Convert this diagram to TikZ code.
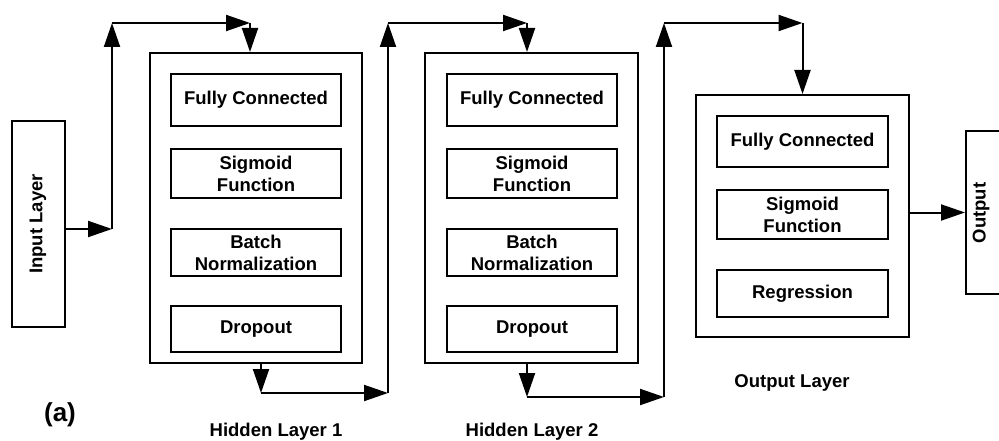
\documentclass[tikz,border=0pt]{standalone}
\usepackage{fontspec}
\setmainfont{Liberation Sans}
\usetikzlibrary{arrows.meta}
\begin{document}
\begin{tikzpicture}[x=1pt,y=-1pt,
  lbl/.style={font=\fontsize{18.5}{22}\selectfont\bfseries, align=center, inner sep=0pt},
  ibox/.style={draw, line width=2pt, minimum width=170pt, inner sep=0pt, lbl},
  obox/.style={draw, line width=2pt, minimum width=212pt, minimum height=310pt, inner sep=0pt},
  arr/.style={line width=2pt, -{Triangle[length=24pt,width=16pt]}},
]
\useasboundingbox (0,0) rectangle (999,441);
\clip (0,0) rectangle (999,441);

% input
\node[draw, line width=2pt, minimum width=53pt, minimum height=206pt, inner sep=0pt] (inbox) at (38.5,224) {};
\node[lbl, rotate=90] (intext) at (38,224) {Input Layer};

% hidden layer 1
\node[obox] (h1) at (256,208) {};
\node[ibox, minimum height=52pt] (h1a) at (256,100) {Fully Connected};
\node[ibox, minimum height=49pt] (h1b) at (256,173.5) {Sigmoid\\Function};
\node[ibox, minimum height=47pt] (h1c) at (256,252.5) {Batch\\Normalization};
\node[ibox, minimum height=46pt] (h1d) at (256,329) {Dropout};
\node[lbl, anchor=base] (h1l) at (276,436) {Hidden Layer 1};

% hidden layer 2
\node[obox, minimum width=213pt] (h2) at (531.5,208) {};
\node[ibox, minimum height=52pt] (h2a) at (532,100) {Fully Connected};
\node[ibox, minimum height=49pt] (h2b) at (532,173.5) {Sigmoid\\Function};
\node[ibox, minimum height=47pt] (h2c) at (532,252.5) {Batch\\Normalization};
\node[ibox, minimum height=46pt] (h2d) at (532,329) {Dropout};
\node[lbl, anchor=base] (h2l) at (532,436) {Hidden Layer 2};

% output layer
\node[obox, minimum width=213pt, minimum height=242pt] (ol) at (802.5,216) {};
\node[ibox, minimum width=171pt, minimum height=51pt] (ola) at (802.5,141.5) {Fully Connected};
\node[ibox, minimum width=171pt, minimum height=49pt] (olb) at (802.5,214.5) {Sigmoid\\Function};
\node[ibox, minimum width=171pt, minimum height=47pt] (olc) at (802.5,293.5) {Regression};
\node[lbl, anchor=base] (oll) at (792,387) {Output Layer};

% output
\node[draw, line width=2pt, minimum width=54pt, minimum height=163pt, inner sep=0pt] (outbox) at (993,212.5) {};
\node[lbl, rotate=90] (outtext) at (981,213) {Output};

\node[font=\fontsize{26}{30}\selectfont\bfseries, anchor=base, inner sep=0pt] (tag) at (60,421.5) {(a)};

% routing coordinates
\coordinate (c1) at (112,229);
\coordinate (c2) at (112,23);
\coordinate (c3) at (250,23);
\coordinate (d1) at (261,393);
\coordinate (d2) at (388,393);
\coordinate (d3) at (388,23);
\coordinate (d4) at (527,23);
\coordinate (e1) at (527,397);
\coordinate (e2) at (664,397);
\coordinate (e3) at (664,23);
\coordinate (e4) at (802.5,23);

\draw[arr] (inbox.east |- c1) -- (c1);
\draw[arr] (c1) -- (c2);
\draw[arr] (c2) -- (c3);
\draw[arr] (c3) -- (c3 |- h1.north);

\draw[arr] (d1 |- h1.south) -- (d1);
\draw[arr] (d1) -- (d2);
\draw[arr] (d2) -- (d3);
\draw[arr] (d3) -- (d4);
\draw[arr] (d4) -- (d4 |- h2.north);

\draw[arr] (e1 |- h2.south) -- (e1);
\draw[arr] (e1) -- (e2);
\draw[arr] (e2) -- (e3);
\draw[arr] (e3) -- (e4);
\draw[arr] (e4) -- (ol.north);

\draw[arr] (ol.east |- outbox.west) -- (outbox.west);
\end{tikzpicture}
\end{document}
